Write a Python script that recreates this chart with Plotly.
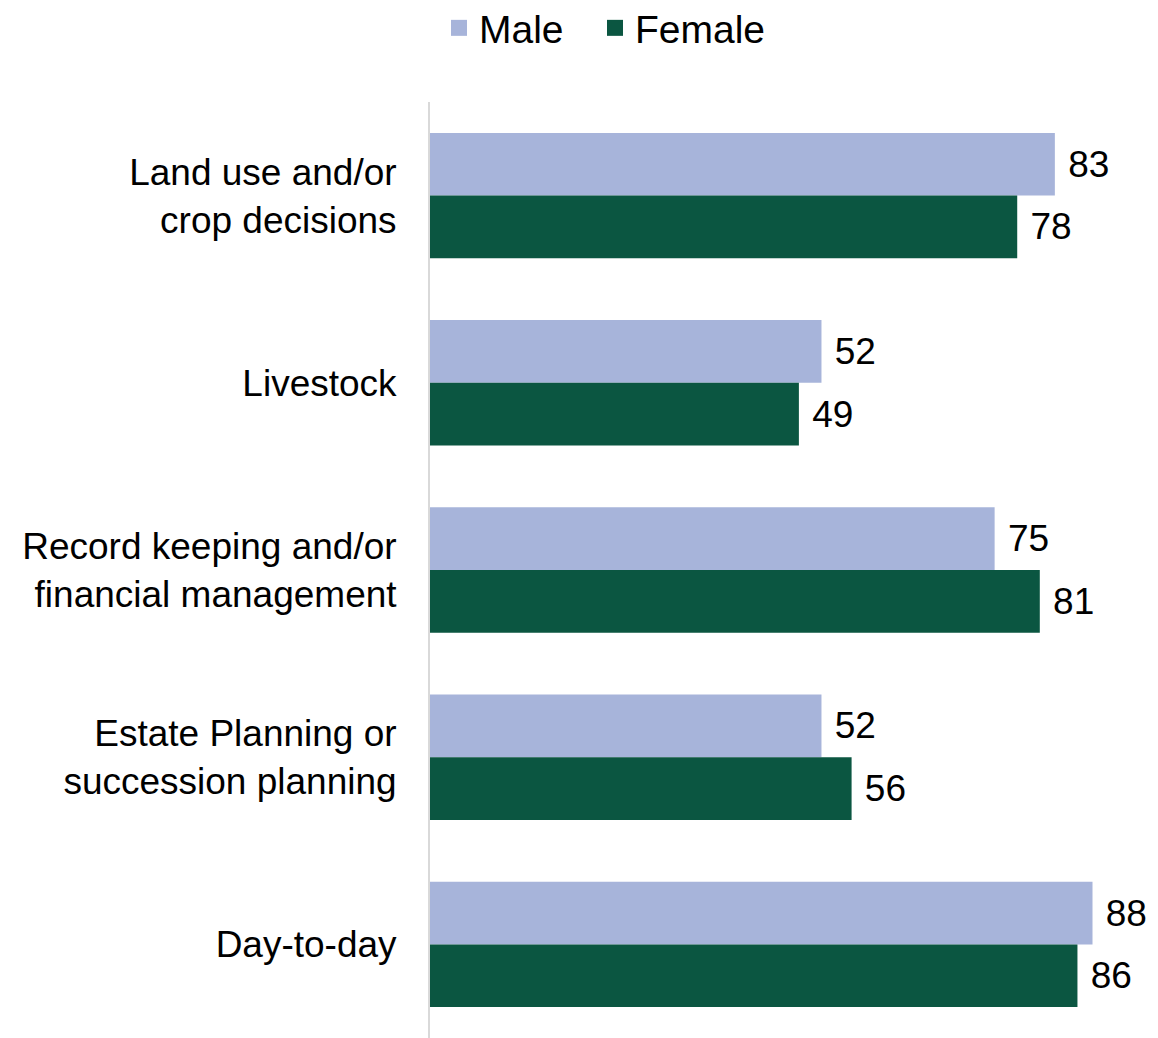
import plotly.graph_objects as go

categories = [
    "Land use and/or<br>crop decisions",
    "Livestock",
    "Record keeping and/or<br>financial management",
    "Estate Planning or<br>succession planning",
    "Day-to-day",
]
male = [83, 52, 75, 52, 88]
female = [78, 49, 81, 56, 86]

male_color = "#A7B4DA"
female_color = "#0B5641"
font_family = "Liberation Sans, Arial, sans-serif"
fs = 37

W, H = 1150, 1030

fig = go.Figure()
fig.add_trace(go.Bar(
    y=categories, x=male, orientation="h", name="Male",
    marker=dict(color=male_color, line=dict(width=0)),
    text=male, texttemplate="\u00a0%{x}", textposition="outside",
    textfont=dict(size=fs, color="#000000", family=font_family),
    cliponaxis=False, showlegend=False,
))
fig.add_trace(go.Bar(
    y=categories, x=female, orientation="h", name="Female",
    marker=dict(color=female_color, line=dict(width=0)),
    text=female, texttemplate="\u00a0%{x}", textposition="outside",
    textfont=dict(size=fs, color="#000000", family=font_family),
    cliponaxis=False, showlegend=False,
))
# legend proxies (larger square symbols), one legend each for spacing
for nm, col, lg in [("Male", male_color, "legend"), ("Female", female_color, "legend2")]:
    fig.add_trace(go.Scatter(
        x=[None], y=[None], mode="markers", name=nm,
        marker=dict(symbol="square", size=16, color=col),
        showlegend=True, legend=lg,
    ))

legend_common = dict(
    orientation="h", xref="container", yref="container",
    xanchor="left", y=1 - 20 / H, yanchor="middle",
    font=dict(size=39, color="#000000", family=font_family),
    itemsizing="trace", itemwidth=30, bgcolor="rgba(0,0,0,0)",
)

fig.update_layout(
    width=W, height=H,
    margin=dict(l=422, r=0, t=94, b=0),
    paper_bgcolor="white", plot_bgcolor="white",
    font=dict(family=font_family, size=fs, color="#000000"),
    barmode="group", bargap=0.33, bargroupgap=0,
    legend=dict(x=431 / W, **legend_common),
    legend2=dict(x=587 / W, **legend_common),
    xaxis=dict(
        range=[0, 96.7], showticklabels=False, showgrid=False,
        zeroline=False, showline=False, ticks="",
    ),
    yaxis=dict(
        categoryorder="array", categoryarray=categories,
        autorange="reversed", showline=True, linecolor="#d9d9d9",
        linewidth=2, ticks="", showgrid=False, zeroline=False,
        ticklabelstandoff=24,
        tickfont=dict(size=fs, color="#000000", family=font_family),
    ),
)

fig.write_html("out.html")
